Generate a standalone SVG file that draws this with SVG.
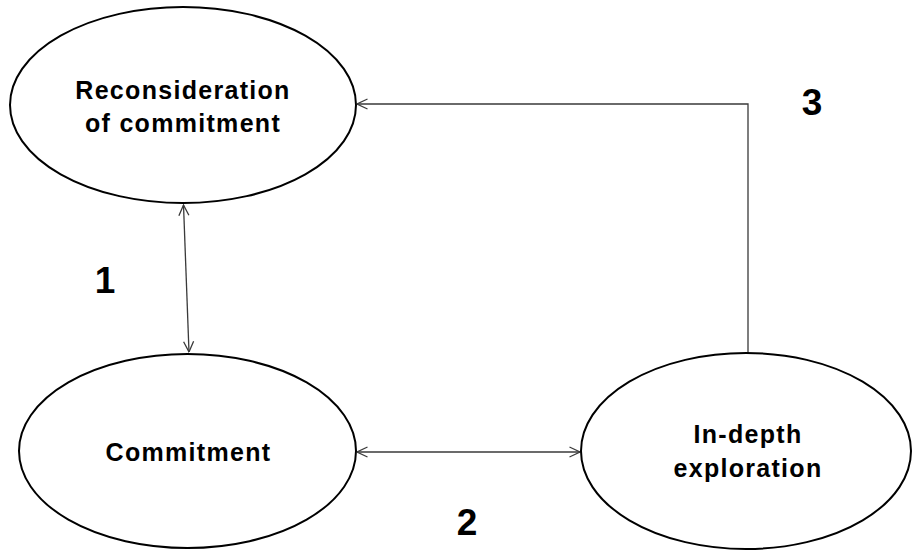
<svg xmlns="http://www.w3.org/2000/svg" width="912" height="552" viewBox="0 0 912 552">
  <style>
    .node { fill: #ffffff; stroke: #000000; stroke-width: 2; }
    .label { font-family: "Liberation Sans", Arial, sans-serif; font-weight: bold; font-size: 25px; letter-spacing: 1.3px; fill: #000000; text-anchor: middle; }
    .num { font-family: "Liberation Sans", Arial, sans-serif; font-weight: bold; font-size: 37px; fill: #000000; text-anchor: middle; }
    .edge { fill: none; stroke: #3a3a3a; stroke-width: 1.3; }
  </style>
  <defs>
    <marker id="head" viewBox="0 0 12 12" refX="11.5" refY="6" markerWidth="12" markerHeight="12" markerUnits="userSpaceOnUse" orient="auto-start-reverse">
      <path d="M1,1 L11.5,6 L1,11" fill="none" stroke="#3a3a3a" stroke-width="1.3"/>
    </marker>
  </defs>
  <rect width="912" height="552" fill="#ffffff"/>

  <g id="connectors">
    <!-- 1: reconsideration <-> commitment -->
    <line class="edge" x1="183.5" y1="205" x2="189" y2="352" marker-start="url(#head)" marker-end="url(#head)"/>
    <!-- 2: commitment <-> in-depth exploration -->
    <line class="edge" x1="357" y1="452" x2="580" y2="452" marker-start="url(#head)" marker-end="url(#head)"/>
    <!-- 3: in-depth exploration -> reconsideration -->
    <polyline class="edge" points="748,353 748,104 357,104" marker-end="url(#head)"/>
  </g>

  <g id="reconsideration">
    <ellipse class="node" cx="183" cy="105" rx="173" ry="98"/>
    <text class="label" x="183" y="99">Reconsideration</text>
    <text class="label" x="183" y="132">of commitment</text>
  </g>

  <g id="commitment">
    <ellipse class="node" cx="187.5" cy="451" rx="168.5" ry="97"/>
    <text class="label" x="188.5" y="461">Commitment</text>
  </g>

  <g id="exploration">
    <ellipse class="node" cx="746" cy="451" rx="165" ry="98"/>
    <text class="label" x="748" y="443">In-depth</text>
    <text class="label" x="748" y="477">exploration</text>
  </g>

  <g id="labels">
    <text class="num" x="105" y="293">1</text>
    <text class="num" x="467" y="535">2</text>
    <text class="num" x="812" y="115">3</text>
  </g>
</svg>
